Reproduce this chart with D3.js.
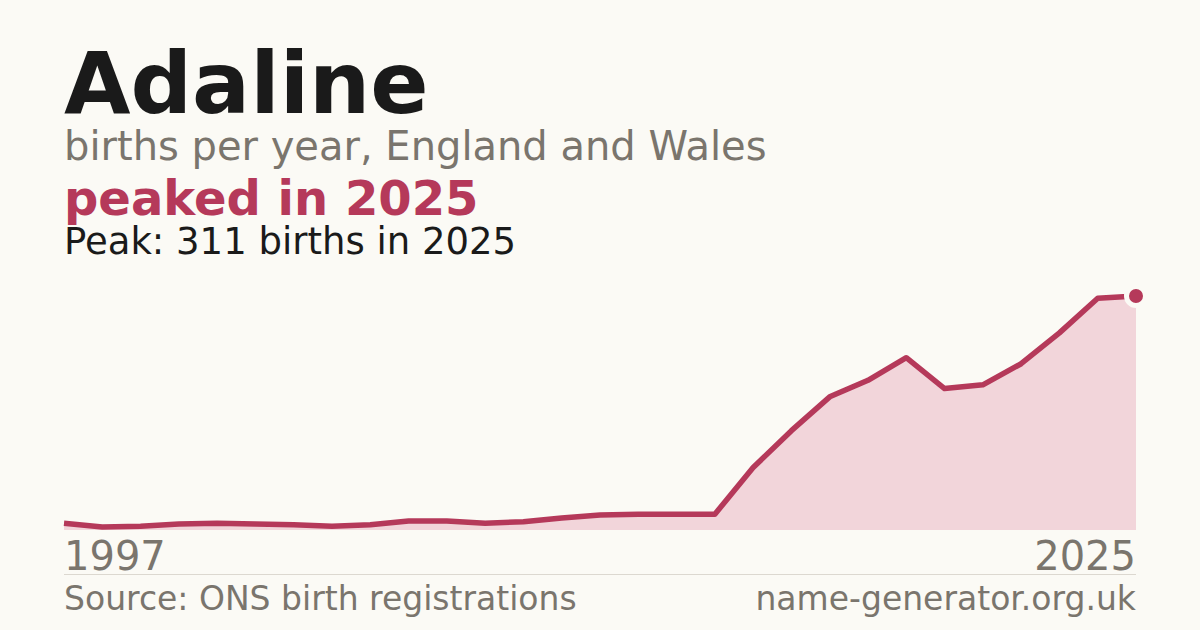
<!DOCTYPE html>
<html>
<head>
<meta charset="utf-8">
<script src="https://cdn.jsdelivr.net/npm/d3@7"></script>
<style>
  html, body { margin: 0; padding: 0; background: #fbfaf5; }
  svg { display: block; font-family: "DejaVu Sans", sans-serif; }
</style>
</head>
<body>
<script>
// births per year for the name
const years = d3.range(1997, 2026);
const births = [9, 4, 5, 8, 9, 8, 7, 5, 7, 12, 12, 9, 11, 16, 20, 21, 21, 21,
                83, 132, 177, 199, 229, 188, 193, 221, 262, 308, 311];
const axisLabels = [1997, 2025];

const width = 1200, height = 630;
const margin = {left: 64, right: 64};
const accent = "#b5395a";
const muted = "#7a756d";

const svg = d3.select("body").append("svg")
    .attr("width", width)
    .attr("height", height);

svg.append("rect").attr("width", width).attr("height", height).attr("fill", "#fbfaf5");

// headings
svg.append("text").attr("x", 64).attr("y", 113)
    .attr("font-size", 86).attr("font-weight", "bold").attr("fill", "#1a1a1a")
    .text("Adaline");
svg.append("text").attr("x", 64).attr("y", 160)
    .attr("font-size", 40).attr("fill", muted)
    .text("births per year, England and Wales");
svg.append("text").attr("x", 64).attr("y", 215)
    .attr("font-size", 48).attr("font-weight", "bold").attr("fill", accent)
    .text("peaked in 2025");
svg.append("text").attr("x", 64).attr("y", 254)
    .attr("font-size", 37).attr("fill", "#1a1a1a")
    .text("Peak: 311 births in 2025");

const data = years.map((y, i) => ({year: y, value: births[i]}));

const x = d3.scaleLinear()
    .domain(d3.extent(years))
    .range([margin.left, width - margin.right]);
const y = d3.scaleLinear()
    .domain([0, d3.max(births)])
    .range([530, 296]);

const area = d3.area()
    .x(d => x(d.year))
    .y0(y(0))
    .y1(d => y(d.value));
const line = d3.line()
    .x(d => x(d.year))
    .y(d => y(d.value));

svg.append("path").datum(data)
    .attr("d", area)
    .attr("fill", "#f2d5da");
svg.append("path").datum(data)
    .attr("d", line)
    .attr("fill", "none")
    .attr("stroke", accent)
    .attr("stroke-width", 5.5)
    .attr("stroke-linejoin", "round");

// peak marker
const peak = data[d3.maxIndex(data, d => d.value)];
svg.append("circle")
    .attr("cx", x(peak.year)).attr("cy", y(peak.value))
    .attr("r", 9.5)
    .attr("fill", accent)
    .attr("stroke", "#fbfaf5")
    .attr("stroke-width", 5);

// end-year labels
svg.selectAll(".yr").data(axisLabels).join("text")
    .attr("x", d => x(d))
    .attr("y", 570)
    .attr("text-anchor", (d, i) => i === 0 ? "start" : "end")
    .attr("font-size", 40).attr("fill", muted)
    .text(d => d);

svg.append("line")
    .attr("x1", margin.left).attr("x2", width - margin.right)
    .attr("y1", 574.5).attr("y2", 574.5)
    .attr("stroke", "#dcd8d0").attr("stroke-width", 1);

svg.append("text").attr("x", 64).attr("y", 610)
    .attr("font-size", 33).attr("fill", muted)
    .text("Source: ONS birth registrations");
svg.append("text").attr("x", width - margin.right).attr("y", 610)
    .attr("text-anchor", "end")
    .attr("font-size", 33).attr("fill", muted)
    .text("name-generator.org.uk");
</script>
</body>
</html>
